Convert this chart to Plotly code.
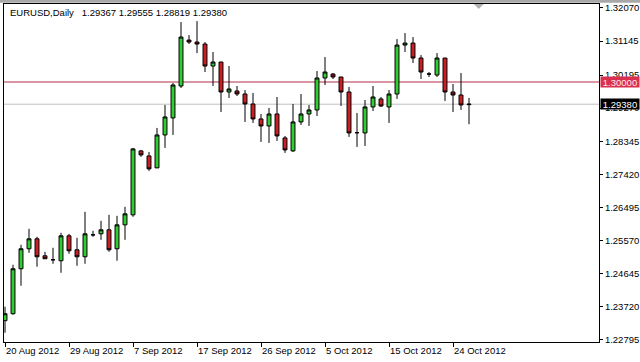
import plotly.graph_objects as go

# ---------------- data ----------------
dates = [
    "2012-08-20", "2012-08-21", "2012-08-22", "2012-08-23", "2012-08-24", "2012-08-26",
    "2012-08-27", "2012-08-28", "2012-08-29", "2012-08-30", "2012-08-31", "2012-09-02",
    "2012-09-03", "2012-09-04", "2012-09-05", "2012-09-06", "2012-09-07", "2012-09-09",
    "2012-09-10", "2012-09-11", "2012-09-12", "2012-09-13", "2012-09-14", "2012-09-16",
    "2012-09-17", "2012-09-18", "2012-09-19", "2012-09-20", "2012-09-21", "2012-09-23",
    "2012-09-24", "2012-09-25", "2012-09-26", "2012-09-27", "2012-09-28", "2012-09-30",
    "2012-10-01", "2012-10-02", "2012-10-03", "2012-10-04", "2012-10-05", "2012-10-07",
    "2012-10-08", "2012-10-09", "2012-10-10", "2012-10-11", "2012-10-12", "2012-10-14",
    "2012-10-15", "2012-10-16", "2012-10-17", "2012-10-18", "2012-10-19", "2012-10-21",
    "2012-10-22", "2012-10-23", "2012-10-24", "2012-10-25", "2012-10-26",
]

opens = [
    1.23332, 1.23527, 1.24783, 1.25341, 1.25620, 1.25145, 1.25034, 1.25006, 1.25703, 1.25313,
    1.25118, 1.25731, 1.25759, 1.25871, 1.25341, 1.26010, 1.26289, 1.28075, 1.27935, 1.27601,
    1.28521, 1.28996, 1.29888, 1.31172, 1.31116, 1.31060, 1.30446, 1.30558, 1.29721, 1.29749,
    1.29665, 1.29386, 1.28968, 1.28772, 1.29107, 1.28438, 1.28075, 1.28884, 1.29107, 1.29219,
    1.30112, 1.30223, 1.30140, 1.29721, 1.28584, 1.28577, 1.29303, 1.29526, 1.29303, 1.29665,
    1.31032, 1.31088, 1.30670, 1.30223, 1.30195, 1.30670, 1.29721, 1.29637, 1.29367,
]
highs = [
    1.23722, 1.24894, 1.25452, 1.25899, 1.25676, 1.25257, 1.25369, 1.25787, 1.25759, 1.25648,
    1.26373, 1.25843, 1.26122, 1.26289, 1.26261, 1.26513, 1.28159, 1.28103, 1.28047, 1.28717,
    1.29358, 1.29972, 1.31674, 1.31311, 1.31702, 1.31116, 1.30837, 1.30558, 1.30446, 1.29888,
    1.29777, 1.29693, 1.29107, 1.29275, 1.29582, 1.28493, 1.29386, 1.29665, 1.29358, 1.30307,
    1.30698, 1.30251, 1.30140, 1.29861, 1.29135, 1.29498, 1.29888, 1.29582, 1.29777, 1.31200,
    1.31367, 1.31256, 1.30753, 1.30279, 1.30809, 1.30670, 1.29944, 1.30251, 1.29555,
]
lows = [
    1.22997, 1.23499, 1.24308, 1.25229, 1.24839, 1.25062, 1.24922, 1.24671, 1.25201, 1.24866,
    1.24922, 1.25676, 1.25592, 1.25257, 1.25006, 1.25592, 1.26234, 1.27908, 1.27517, 1.27601,
    1.28159, 1.28521, 1.29833, 1.31060, 1.30809, 1.30279, 1.29888, 1.29163, 1.29554, 1.29609,
    1.28884, 1.28856, 1.28326, 1.28298, 1.28354, 1.28019, 1.28047, 1.28800, 1.28772, 1.29051,
    1.29916, 1.30084, 1.29330, 1.28466, 1.28187, 1.28214, 1.29191, 1.29303, 1.28856, 1.29526,
    1.30837, 1.30530, 1.30084, 1.30140, 1.30140, 1.29470, 1.29163, 1.29219, 1.28819,
]
closes = [
    1.23527, 1.24783, 1.25341, 1.25620, 1.25118, 1.25062, 1.25034, 1.25703, 1.25285, 1.25118,
    1.25759, 1.25731, 1.25871, 1.25313, 1.26010, 1.26317, 1.28131, 1.27963, 1.27573, 1.28521,
    1.29024, 1.29916, 1.31256, 1.31116, 1.31060, 1.30446, 1.30558, 1.29721, 1.29805, 1.29665,
    1.29386, 1.28968, 1.28772, 1.29107, 1.28493, 1.28103, 1.28884, 1.29107, 1.29219, 1.30112,
    1.30279, 1.30140, 1.29721, 1.28577, 1.28584, 1.29303, 1.29582, 1.29330, 1.29665, 1.31032,
    1.31088, 1.30670, 1.30279, 1.30223, 1.30670, 1.29721, 1.29637, 1.29358, 1.29380,
]

y_tick_vals = [1.32070, 1.31145, 1.30195, 1.29270, 1.28345, 1.27420, 1.26495,
               1.25570, 1.24645, 1.23720, 1.22795]
y_tick_text = ["1.32070", "1.31145", "1.30195", "1.29270", "1.28345", "1.27420",
               "1.26495", "1.25570", "1.24645", "1.23720", "1.22795"]

x_tick_dates = ["2012-08-20", "2012-08-29", "2012-09-07", "2012-09-17",
                "2012-09-26", "2012-10-05", "2012-10-15", "2012-10-24"]
x_tick_text = ["20 Aug 2012", "29 Aug 2012", "7 Sep 2012", "17 Sep 2012",
               "26 Sep 2012", "5 Oct 2012", "15 Oct 2012", "24 Oct 2012"]

level_price = 1.30000
level_text = "1.30000"
bid_price = 1.29380
bid_text = "1.29380"
header = "EURUSD,Daily\u00a0\u00a0 1.29367 1.29555 1.28819 1.29380"

# ---------------- figure ----------------
FONT = "Liberation Sans, Arial, sans-serif"

fig = go.Figure()
fig.add_trace(go.Candlestick(
    x=dates, open=opens, high=highs, low=lows, close=closes,
    increasing=dict(line=dict(color="black", width=1), fillcolor="#32CD32"),
    decreasing=dict(line=dict(color="black", width=1), fillcolor="#CC1F24"),
    whiskerwidth=0, hoverinfo="skip", showlegend=False,
))

fig.add_shape(type="line", xref="paper", x0=0, x1=1, yref="y",
              y0=level_price, y1=level_price, layer="below",
              line=dict(color="#B02E45", width=1))
fig.add_shape(type="line", xref="paper", x0=0, x1=1, yref="y",
              y0=bid_price, y1=bid_price, layer="below",
              line=dict(color="#C0C0C0", width=1))

# chart-shift marker (small grey triangle at top)
fig.add_shape(type="path", xref="paper", yref="paper",
              path="M 0.7895 1.0 L 0.8063 1.0 L 0.7979 0.985 Z",
              fillcolor="#B0B0B0", line=dict(width=0))

# window frame strip at the very top
fig.add_shape(type="rect", xref="paper", yref="paper",
              x0=-0.01, x1=1.08, y0=1.004, y1=1.02,
              fillcolor="#A8A8A8", line=dict(width=0))

fig.add_annotation(xref="paper", yref="paper", x=0.007, y=0.996,
                   xanchor="left", yanchor="top", showarrow=False,
                   text=header, font=dict(family=FONT, size=9.5, color="black"))

fig.add_annotation(xref="paper", yref="y", x=1, y=level_price, xanchor="left",
                   yanchor="middle", showarrow=False, xshift=1, text=level_text,
                   bgcolor="#D9304F", width=38, height=10, borderpad=0,
                   font=dict(family=FONT, size=9.5, color="#FFE8EC"))
fig.add_annotation(xref="paper", yref="y", x=1, y=bid_price, xanchor="left",
                   yanchor="middle", showarrow=False, xshift=1, text=bid_text,
                   bgcolor="#000000", width=38, height=10, borderpad=0,
                   font=dict(family=FONT, size=9.5, color="white"))

fig.update_layout(
    width=640, height=362,
    margin=dict(l=4, r=41, t=4, b=20, autoexpand=False),
    paper_bgcolor="white", plot_bgcolor="white",
    font=dict(family=FONT, size=9.5, color="black"),
    showlegend=False,
    xaxis=dict(
        type="category", range=[-0.125, 74.25],
        tickmode="array", tickvals=x_tick_dates, ticktext=x_tick_text,
        ticks="outside", ticklen=4, tickcolor="black", tickwidth=1,
        ticklabelposition="outside right",
        showline=True, linecolor="black", linewidth=1, mirror=True,
        showgrid=False, zeroline=False, rangeslider=dict(visible=False),
        fixedrange=True,
    ),
    yaxis=dict(
        side="right", range=[1.22737, 1.32179],
        tickmode="array", tickvals=y_tick_vals, ticktext=y_tick_text,
        ticks="outside", ticklen=3, tickcolor="black", tickwidth=1,
        showline=True, linecolor="black", linewidth=1, mirror=True,
        showgrid=False, zeroline=False, fixedrange=True,
    ),
)

fig.write_html(
    "out.html",
    config={"displayModeBar": False},
    post_script="document.body.style.margin='0';document.body.style.overflow='hidden';",
)
